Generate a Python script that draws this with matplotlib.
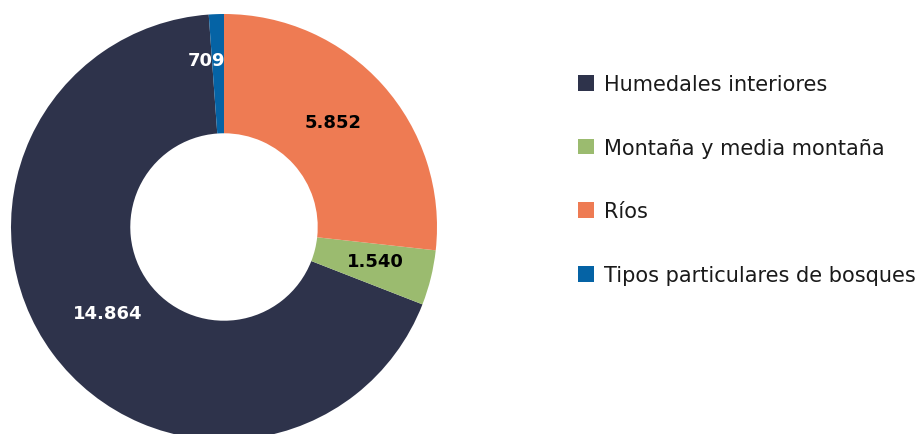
import numpy as np
import matplotlib.pyplot as plt

# datos
categorias = ['Humedales interiores', 'Montaña y media montaña', 'Ríos',
              'Tipos particulares de bosques']
# tamaño de cada sector (ángulos)
valores = [14864, 912, 5852, 250]
etiquetas = ['14.864', '1.540', '5.852', '709']
colores = ['#2E334B', '#9BBB6F', '#EE7B53', '#0563A5']
color_texto = ['white', 'black', 'black', 'white']

fig = plt.figure(figsize=(9.24, 4.35), dpi=100)
W, H = 924, 435
cx, cy, r = 224, 228, 213
ax = fig.add_axes([(cx - r) / W, (H - cy - r) / H, 2 * r / W, 2 * r / H])

inicio = 90 + valores[-1] / sum(valores) * 360
wedges, _ = ax.pie(valores, colors=colores, startangle=inicio, counterclock=True,
                   wedgeprops=dict(width=0.56, linewidth=0))
ax.set_xlim(-1, 1)
ax.set_ylim(-1, 1)

# etiquetas de valor
dist = [0.68, 0.727, 0.71, 0.79]
giro = [0, 1, 2, 4]
for w, txt, col, d, g in zip(wedges, etiquetas, color_texto, dist, giro):
    ang = np.deg2rad((w.theta1 + w.theta2) / 2 + g)
    ax.text(d * np.cos(ang), d * np.sin(ang), txt, ha='center', va='center',
            fontsize=13, fontweight='bold', color=col)

fig.legend(wedges, categorias, loc='upper left', bbox_to_anchor=(578 / W, 1 - 75 / H),
           frameon=False, fontsize=15, handlelength=0.77, handleheight=0.77,
           handletextpad=0.5, labelspacing=2.1, labelcolor='#1a1a1a',
           borderpad=0, borderaxespad=0)

plt.savefig('out.png', dpi=100)
plt.close()
